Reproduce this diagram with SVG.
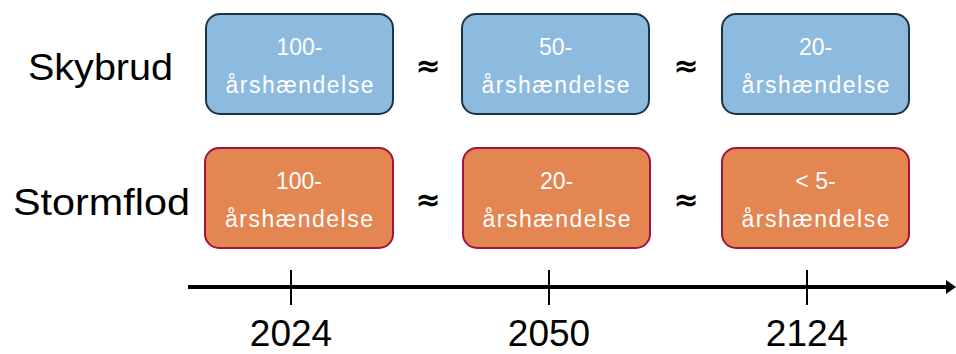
<svg xmlns="http://www.w3.org/2000/svg" width="956" height="354" viewBox="0 0 956 354">
<style>
.blue{fill:#8dbadf;stroke:#1b3344;stroke-width:2}
.orange{fill:#e38651;stroke:#a3133c;stroke-width:2}
.bt{font-family:"Liberation Sans",Arial,sans-serif;font-size:23px;fill:#ffffff;text-anchor:middle}
.lab{font-family:"Liberation Sans",Arial,sans-serif;font-size:36px;fill:#000}
.approx{font-family:"DejaVu Sans",sans-serif;font-size:30px;fill:#000;text-anchor:middle;font-weight:bold}
.yr{font-family:"Liberation Sans",Arial,sans-serif;font-size:37px;fill:#000;text-anchor:middle}
</style>
<defs>
<marker id="arr" markerWidth="10" markerHeight="14" refX="1" refY="7" orient="auto" markerUnits="userSpaceOnUse">
<path d="M0,0 L10,7 L0,14 Z" fill="#000"/>
</marker>
</defs>
<rect width="956" height="354" fill="#fff"/>
<g id="row-labels">
<text class="lab" x="28" y="80" textLength="145" lengthAdjust="spacingAndGlyphs">Skybrud</text>
<text class="lab" x="13" y="215" textLength="177" lengthAdjust="spacingAndGlyphs">Stormflod</text>
</g>
<g id="sky-2024"><rect class="blue" x="206" y="14" width="187" height="100" rx="14"/><text class="bt" x="299.5" y="55">100-</text><text class="bt" x="299.5" y="93" textLength="148">årshændelse</text></g>
<g id="sky-2050"><rect class="blue" x="462" y="14" width="187" height="100" rx="14"/><text class="bt" x="555.5" y="55">50-</text><text class="bt" x="555.5" y="93" textLength="148">årshændelse</text></g>
<g id="sky-2124"><rect class="blue" x="722" y="14" width="187" height="100" rx="14"/><text class="bt" x="815.5" y="55">20-</text><text class="bt" x="815.5" y="93" textLength="148">årshændelse</text></g>
<g id="storm-2024"><rect class="orange" x="205" y="148" width="188" height="100" rx="14"/><text class="bt" x="299" y="189">100-</text><text class="bt" x="299" y="227" textLength="148">årshændelse</text></g>
<g id="storm-2050"><rect class="orange" x="463" y="148" width="187" height="100" rx="14"/><text class="bt" x="556.5" y="189">20-</text><text class="bt" x="556.5" y="227" textLength="148">årshændelse</text></g>
<g id="storm-2124"><rect class="orange" x="722" y="148" width="187" height="100" rx="14"/><text class="bt" x="815.5" y="189">&lt; 5-</text><text class="bt" x="815.5" y="227" textLength="148">årshændelse</text></g>
<g id="approx">
<text class="approx" x="428" y="76">≈</text>
<text class="approx" x="686" y="76">≈</text>
<text class="approx" x="428" y="210">≈</text>
<text class="approx" x="686" y="210">≈</text>
</g>
<g id="connectors">
<line x1="188" y1="287" x2="947" y2="287" stroke="#000" stroke-width="4" marker-end="url(#arr)"/>
<line x1="291" y1="270" x2="291" y2="305" stroke="#000" stroke-width="2"/>
<line x1="549" y1="270" x2="549" y2="305" stroke="#000" stroke-width="2"/>
<line x1="807" y1="270" x2="807" y2="305" stroke="#000" stroke-width="2"/>
</g>
<g id="years">
<text class="yr" x="291" y="346">2024</text>
<text class="yr" x="549" y="346">2050</text>
<text class="yr" x="807" y="346">2124</text>
</g>
</svg>
